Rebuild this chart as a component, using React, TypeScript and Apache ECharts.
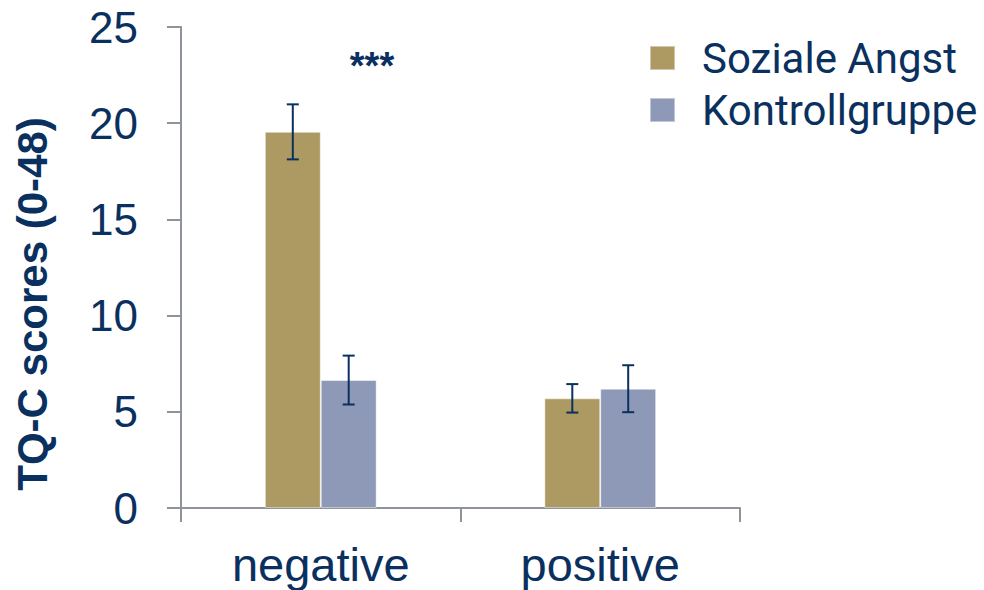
import React, { useEffect, useRef } from "react";
import * as echarts from "echarts";

const categories = ["negative", "positive"];
const seriesNames = ["Soziale Angst", "Kontrollgruppe"];
const sozialeAngst = [19.55, 5.7];
const sozialeAngstErr = [1.43, 0.74];
const kontrollgruppe = [6.65, 6.2];
const kontrollgruppeErr = [1.27, 1.22];
const yTicks = { min: 0, max: 25, interval: 5 };
const yTitle = "TQ-C scores (0-48)";
const significance = "***";

const NAVY = "#0a3060";
const AXIS = "#8f939c";
const GOLD = "#ad9962";
const BLUE = "#8e99b7";

function errorSeries(values: number[], errs: number[], side: number) {
  return {
    type: "custom",
    silent: true,
    z: 10,
    data: values.map((v, i) => [i, v, errs[i]]),
    renderItem: (params: any, api: any) => {
      const idx = api.value(0);
      const v = api.value(1);
      const e = api.value(2);
      const band = api.size([1, 0])[0];
      const off = side * band * 0.1;
      const top = api.coord([idx, v + e]);
      const bot = api.coord([idx, v - e]);
      const x = top[0] + off;
      const hw = 6;
      const style = { stroke: NAVY, lineWidth: 2 };
      return {
        type: "group",
        children: [
          { type: "line", shape: { x1: x, y1: top[1], x2: x, y2: bot[1] }, style },
          { type: "line", shape: { x1: x - hw, y1: top[1], x2: x + hw, y2: top[1] }, style },
          { type: "line", shape: { x1: x - hw, y1: bot[1], x2: x + hw, y2: bot[1] }, style },
        ],
      };
    },
  };
}

export default function App() {
  const ref = useRef<HTMLDivElement>(null);
  useEffect(() => {
    document.body.style.margin = "0";
    if (!ref.current) return;
    const chart = echarts.init(ref.current, undefined, { renderer: "svg" });
    chart.setOption({
      animation: false,
      backgroundColor: "#ffffff",
      textStyle: { fontFamily: "Liberation Sans, Arial, sans-serif" },
      grid: { left: 181, top: 27, width: 559, height: 481, containLabel: false },
      legend: {
        orient: "vertical",
        left: 644,
        top: 32,
        itemWidth: 25,
        itemHeight: 24,
        itemGap: 10,
        icon: "rect",
        data: seriesNames,
        textStyle: {
          fontFamily: "Roboto",
          fontSize: 42,
          color: NAVY,
          padding: [0, 0, 0, 22],
        },
      },
      xAxis: {
        type: "category",
        data: categories,
        axisLine: { lineStyle: { color: AXIS, width: 2 } },
        axisTick: { show: true, length: 14, lineStyle: { color: AXIS, width: 2 } },
        axisLabel: { color: NAVY, fontSize: 47, margin: 33 },
      },
      yAxis: {
        type: "value",
        min: yTicks.min,
        max: yTicks.max,
        interval: yTicks.interval,
        splitLine: { show: false },
        axisLine: { show: true, lineStyle: { color: AXIS, width: 2 } },
        axisTick: { show: true, length: 14, lineStyle: { color: AXIS, width: 2 } },
        axisLabel: { color: NAVY, fontSize: 44, margin: 43 },
      },
      graphic: [
        {
          type: "text",
          x: 32,
          y: 304,
          rotation: Math.PI / 2,
          style: {
            text: yTitle,
            fill: NAVY,
            font: "bold 42px 'Liberation Sans', Arial, sans-serif",
            textAlign: "center",
            textVerticalAlign: "middle",
          },
        },
        {
          type: "text",
          x: 372,
          y: 47,
          style: {
            text: significance,
            fill: NAVY,
            font: "bold 38px 'Liberation Sans', Arial, sans-serif",
            textAlign: "center",
            textVerticalAlign: "top",
          },
        },
      ],
      series: [
        {
          name: seriesNames[0],
          type: "bar",
          data: sozialeAngst,
          barWidth: "20%",
          barGap: "0%",
          itemStyle: { color: GOLD, borderColor: "rgba(255,255,255,0.45)", borderWidth: 1 },
        },
        {
          name: seriesNames[1],
          type: "bar",
          data: kontrollgruppe,
          barWidth: "20%",
          barGap: "0%",
          itemStyle: { color: BLUE, borderColor: "rgba(255,255,255,0.45)", borderWidth: 1 },
        },
        errorSeries(sozialeAngst, sozialeAngstErr, -1),
        errorSeries(kontrollgruppe, kontrollgruppeErr, 1),
      ],
    });
    return () => chart.dispose();
  }, []);
  return <div ref={ref} style={{ width: 984, height: 590 }} />;
}
